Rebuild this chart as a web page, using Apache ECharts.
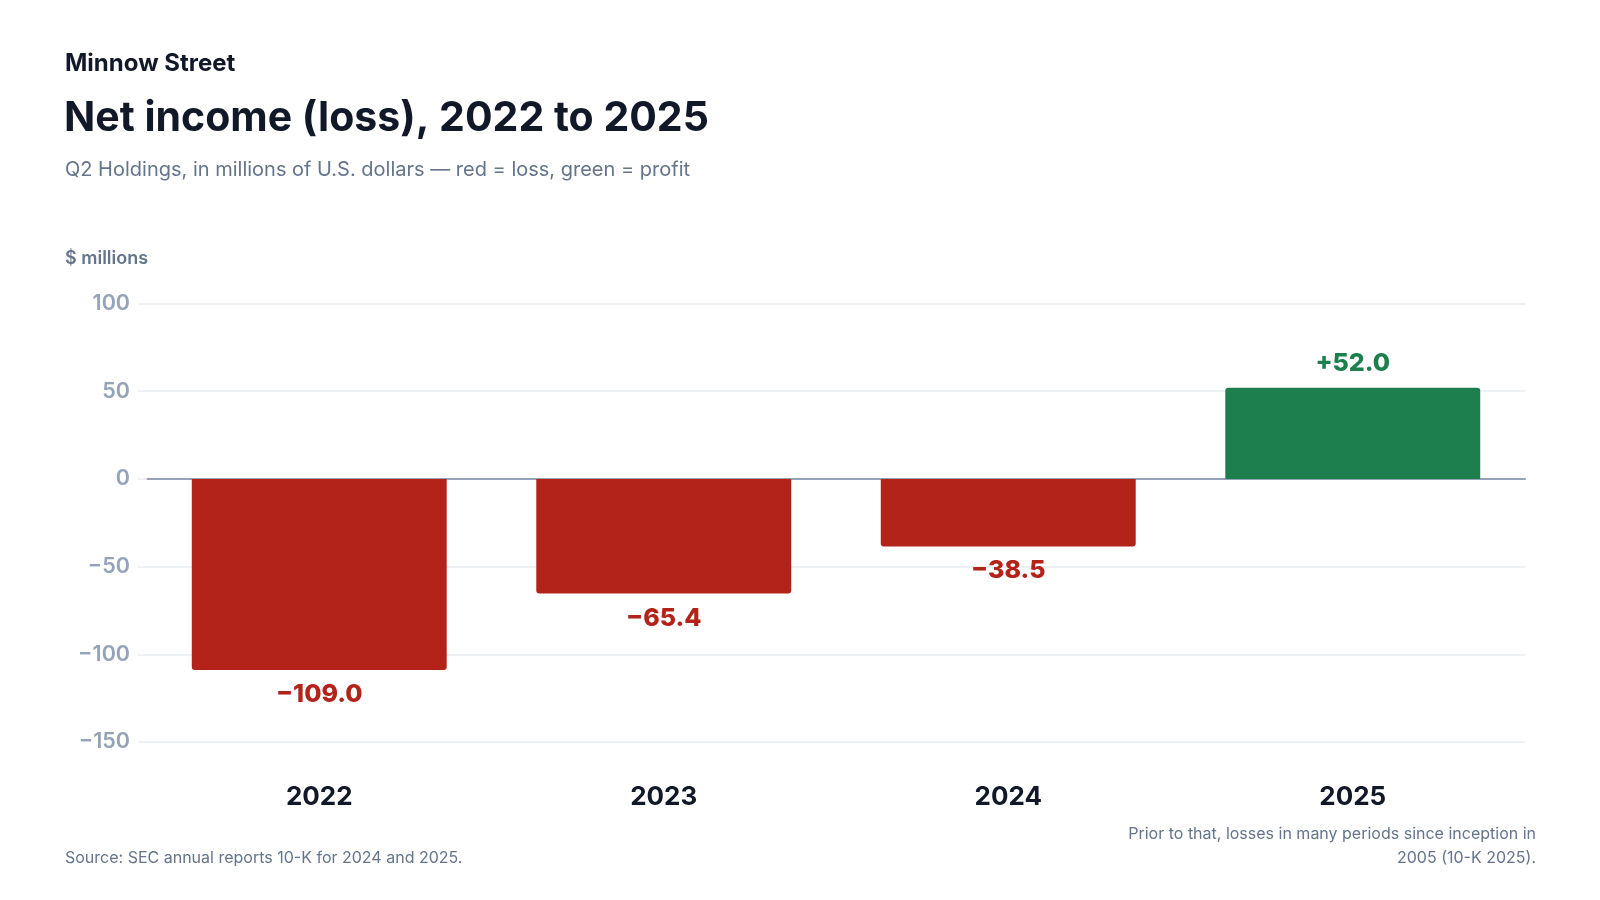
<!DOCTYPE html>
<html>
<head>
<meta charset="utf-8">
<script src="https://cdn.jsdelivr.net/npm/echarts@6/dist/echarts.min.js"></script>
<style>
html,body{margin:0;padding:0;background:#fff;}
#chart{width:1600px;height:900px;}
</style>
</head>
<body>
<div id="chart"></div>
<script>
const categories = ['2022', '2023', '2024', '2025'];
const netIncome = [-109.0, -65.4, -38.5, 52.0];
const yTicks = { min: -150, max: 100, interval: 50 };

const RED = '#b3231a';
const GREEN = '#1c7f4d';
const FONT = 'Inter, "Noto Sans", sans-serif';

function fmt(v) {
  const s = Math.abs(v).toFixed(1);
  return v < 0 ? '\u2212' + s : '+' + s;
}

const noteStyle = { fontFamily: FONT, fontSize: 16, fontWeight: 400, fill: '#64748b' };

const chart = echarts.init(document.getElementById('chart'));
chart.setOption({
  backgroundColor: '#ffffff',
  animation: false,
  textStyle: { fontFamily: FONT },
  title: [
    { text: 'Minnow Street', left: 60, top: 47,
      textStyle: { fontFamily: FONT, fontSize: 24, fontWeight: 700, color: '#111827' } },
    { text: 'Net income (loss), 2022 to 2025', left: 59, top: 93,
      textStyle: { fontFamily: FONT, fontSize: 41, fontWeight: 700, color: '#111827' } },
    { text: 'Q2 Holdings, in millions of U.S. dollars \u2014 red = loss, green = profit', left: 60, top: 155,
      textStyle: { fontFamily: FONT, fontSize: 20, fontWeight: 400, color: '#64748b' } },
    { text: '$ millions', left: 60, top: 245,
      textStyle: { fontFamily: FONT, fontSize: 18, fontWeight: 600, color: '#64748b' } },
    { text: 'Source: SEC annual reports 10-K for 2024 and 2025.', left: 60, top: 845,
      textStyle: { fontFamily: FONT, fontSize: 16, fontWeight: 400, color: '#64748b' } }
  ],
  graphic: [
    { type: 'text', right: 64, top: 826,
      style: Object.assign({ text: 'Prior to that, losses in many periods since inception in' }, noteStyle) },
    { type: 'text', right: 64, top: 850,
      style: Object.assign({ text: '2005 (10-K 2025).' }, noteStyle) }
  ],
  grid: { left: 147, right: 75, top: 303.5, bottom: 158, containLabel: false },
  xAxis: {
    type: 'category',
    data: categories,
    axisLine: { show: true, onZero: true, lineStyle: { color: '#94a3b8', width: 2 } },
    axisTick: { show: false },
    axisLabel: {
      interval: 0, margin: 42,
      fontFamily: FONT, fontSize: 26, fontWeight: 700, color: '#111827'
    },
    position: 'bottom'
  },
  yAxis: {
    type: 'value',
    min: yTicks.min, max: yTicks.max, interval: yTicks.interval,
    axisLine: { show: false },
    axisTick: { show: true, length: 9, lineStyle: { color: '#e8ecf1', width: 1.5 } },
    splitLine: { show: true, lineStyle: { color: '#e8ecf1', width: 1.5 } },
    axisLabel: {
      margin: 17,
      fontFamily: FONT, fontSize: 21.5, fontWeight: 600, color: '#94a3b8',
      formatter: function (v) { return v < 0 ? '\u2212' + Math.abs(v) : String(v); }
    }
  },
  series: [{
    type: 'bar',
    barWidth: '74%',
    data: netIncome.map(function (v) {
      const neg = v < 0;
      return {
        value: v,
        itemStyle: { color: neg ? RED : GREEN, borderRadius: neg ? [0, 0, 3, 3] : [3, 3, 0, 0] },
        label: {
          show: true,
          position: neg ? 'bottom' : 'top',
          distance: 12,
          formatter: function () { return fmt(v); },
          fontFamily: FONT, fontSize: 25, fontWeight: 800,
          color: neg ? RED : GREEN
        }
      };
    })
  }]
});
</script>
</body>
</html>
